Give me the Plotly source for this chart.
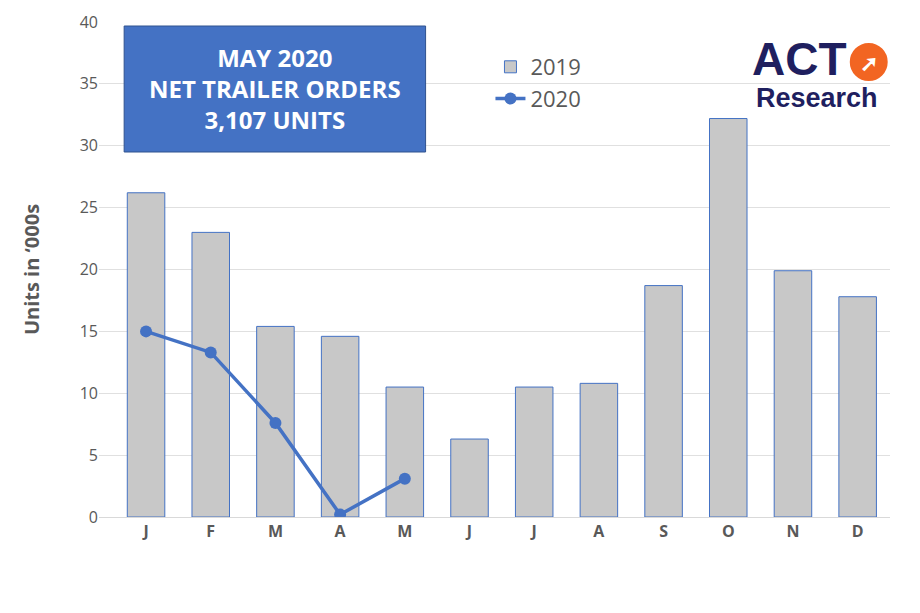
import plotly.graph_objects as go

months = ["J","F","M","A","M ","J ","J  ","A ","S","O","N","D"]
v2019 = [26.2, 23.0, 15.4, 14.6, 10.5, 6.3, 10.5, 10.8, 18.7, 32.2, 19.9, 17.8]
v2020 = [15.0, 13.3, 7.6, 0.2, 3.1]

fig = go.Figure()
fig.add_trace(go.Bar(x=months, y=v2019, name="2019", marker=dict(color="#C8C8C8", line=dict(color="#4472C4", width=1)), width=0.58))
fig.add_trace(go.Scatter(x=months[:5], y=v2020, name="2020", mode="lines+markers",
                         line=dict(color="#4472C4", width=3.5), marker=dict(size=12, color="#4472C4")))
def px(x): return (x-97.8)/792.5
def py(y): return (517-y)/495
fig.update_layout(
    width=920, height=613, paper_bgcolor="white", plot_bgcolor="white",
    margin=dict(l=91, r=38, t=14, b=104, autoexpand=False),
    font=dict(family="Open Sans, Liberation Sans", color="#595959"),
    xaxis=dict(type="category", showline=True, linecolor="#D9D9D9", tickfont=dict(size=16, color="#595959"), ticks="", automargin=False),
    yaxis=dict(range=[0, 40], dtick=5, gridcolor="#E0E0E0", tickfont=dict(size=16), zeroline=False, automargin=False,
               title=dict(text="<b>Units in ‘000s</b>", font=dict(size=20, color="#595959"), standoff=34)),
    legend=dict(x=px(490), y=py(46), xanchor="left", yanchor="top", font=dict(size=22, color="#595959"), bgcolor="rgba(0,0,0,0)", tracegroupgap=4),
    bargap=0.42, showlegend=True,
)
fig.update_xaxes(ticktext=["<b>%s</b>" % m.strip() for m in months], tickvals=months)
fig.add_shape(type="rect", xref="paper", yref="paper", x0=px(123), x1=px(425),
              y0=py(152), y1=py(26), fillcolor="#4472C4", line=dict(color="#2F528F", width=1))
fig.add_annotation(xref="paper", yref="paper", x=px(274), y=py(89), showarrow=False, xanchor="center", yanchor="middle",
                   text="<b>MAY 2020<br>NET TRAILER ORDERS<br>3,107 UNITS</b>",
                   font=dict(size=24, color="white"), align="center")
fig.add_annotation(xref="paper", yref="paper", x=px(849), y=py(59), showarrow=False,
                   text="<b>ACT</b>", font=dict(size=46, color="#1F1F5F", family="Liberation Sans"), xanchor="right", yanchor="middle")
fig.add_annotation(xref="paper", yref="paper", x=px(817), y=py(98), showarrow=False,
                   text="<b>Research</b>", font=dict(size=27, color="#1F1F5F", family="Liberation Sans"), xanchor="center", yanchor="middle")
fig.add_shape(type="circle", xref="paper", yref="paper", x0=px(851), x1=px(887),
              y0=py(80), y1=py(44), fillcolor="#F26522", line=dict(color="#F26522"))
fig.add_annotation(xref="paper", yref="paper", x=px(869), y=py(62), showarrow=False, xanchor="center", yanchor="middle",
                   text="<b>➚</b>", font=dict(size=22, color="white"))
fig.write_html("out.html")
